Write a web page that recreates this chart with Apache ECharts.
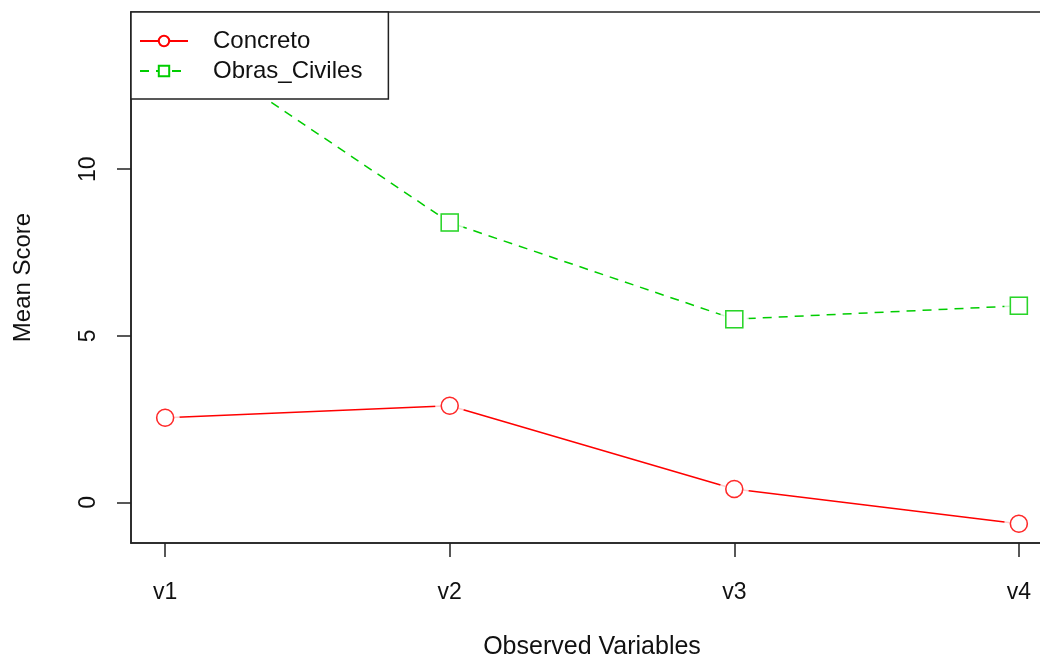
<!DOCTYPE html>
<html>
<head>
<meta charset="utf-8">
<script src="https://cdn.jsdelivr.net/npm/echarts@6/dist/echarts.min.js"></script>
<style>
html,body{margin:0;padding:0;background:#fff;}
#chart{width:1040px;height:656px;}
</style>
</head>
<body>
<div id="chart"></div>
<script>
var categories = ['v1', 'v2', 'v3', 'v4'];
var concreto = [2.54, 2.90, 0.40, -0.64];
var obrasCiviles = [14.15, 8.40, 5.50, 5.90];
var yTicks = [0, 5, 10];
var xTicks = [1, 2, 3, 4];

var FONT = 'Liberation Sans, Arial, sans-serif';
var RED = '#FF0000';
var GREEN = '#00CD00';

function pairs(arr) { return arr.map(function (v, i) { return [i + 1, v]; }); }

var chart = echarts.init(document.getElementById('chart'), null, { renderer: 'canvas' });

function mainSeries(name, data, color, symbol, dash) {
  return {
    name: name, type: 'line', data: pairs(data), z: 2,
    symbol: symbol, symbolSize: 17, showSymbol: true,
    lineStyle: { color: color, width: 1.5, type: dash },
    itemStyle: { color: '#fff', borderColor: color, borderWidth: 1.5 }
  };
}
function gapSeries(name, data) {
  return {
    name: name + '_gap', type: 'scatter', data: pairs(data), z: 3, silent: true,
    symbol: 'circle', symbolSize: 29,
    itemStyle: { color: '#fff', borderWidth: 0 }
  };
}
function markSeries(name, data, color, symbol) {
  return {
    name: name + '_mark', type: 'scatter', data: pairs(data), z: 4, silent: true,
    symbol: symbol, symbolSize: 17,
    itemStyle: { color: 'rgba(255,255,255,0)', borderColor: color, borderWidth: 1.5 }
  };
}

var option = {
  animation: false,
  backgroundColor: '#fff',
  grid: {
    left: 131, top: 12, width: 922, height: 531,
    outerBoundsMode: 'none', containLabel: false,
    show: true, borderColor: '#222', borderWidth: 1.5, backgroundColor: 'transparent'
  },
  legend: {
    data: ['Concreto', 'Obras_Civiles'],
    orient: 'vertical', left: 131, top: 12, z: 10,
    padding: [14, 26, 13, 8],
    itemWidth: 48, itemHeight: 13, itemGap: 0,
    backgroundColor: '#fff', borderColor: '#222', borderWidth: 1.5,
    textStyle: { fontFamily: FONT, fontSize: 24, color: '#111', lineHeight: 30, padding: [0, 0, 0, 20] }
  },
  xAxis: {
    type: 'value', min: 0.88, max: 4.12,
    name: 'Observed Variables', nameLocation: 'middle', nameGap: 92,
    nameTextStyle: { fontFamily: FONT, fontSize: 25, color: '#111' },
    axisLine: { show: true, onZero: false, lineStyle: { color: '#222', width: 1.5 } },
    axisTick: { show: true, length: 14, customValues: xTicks, lineStyle: { color: '#222', width: 1.5 } },
    axisLabel: {
      customValues: xTicks, margin: 38, fontFamily: FONT, fontSize: 23, color: '#111',
      formatter: function (v) { return categories[Math.round(v) - 1] || ''; }
    },
    splitLine: { show: false }
  },
  yAxis: {
    type: 'value', min: -1.22, max: 14.72,
    name: 'Mean Score', nameLocation: 'middle', nameGap: 96,
    nameTextStyle: { fontFamily: FONT, fontSize: 24, color: '#111' },
    axisLine: { show: true, onZero: false, lineStyle: { color: '#222', width: 1.5 } },
    axisTick: { show: true, length: 14, customValues: yTicks, lineStyle: { color: '#222', width: 1.5 } },
    axisLabel: {
      customValues: yTicks, rotate: 90, margin: 31, fontFamily: FONT, fontSize: 23, color: '#111'
    },
    splitLine: { show: false }
  },
  series: [
    mainSeries('Concreto', concreto, RED, 'circle', 'solid'),
    mainSeries('Obras_Civiles', obrasCiviles, GREEN, 'rect', [9, 7]),
    gapSeries('Concreto', concreto),
    gapSeries('Obras_Civiles', obrasCiviles),
    markSeries('Concreto', concreto, RED, 'circle'),
    markSeries('Obras_Civiles', obrasCiviles, GREEN, 'rect')
  ]
};
chart.setOption(option);
</script>
</body>
</html>
